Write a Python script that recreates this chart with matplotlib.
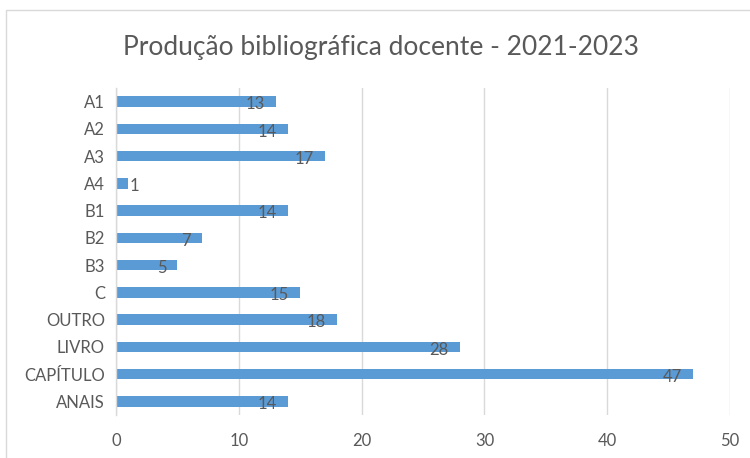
import matplotlib
matplotlib.use("Agg")
import matplotlib.pyplot as plt
import numpy as np

# producao por tipo, 2021-2023
categorias = ["A1", "A2", "A3", "A4", "B1", "B2", "B3", "C",
              "OUTRO", "LIVRO", "CAPÍTULO", "ANAIS"]
quantidades = [13, 14, 17, 1, 14, 7, 5, 15, 18, 28, 47, 14]
ticks_x = [0, 10, 20, 30, 40, 50]

cor_barra = "#5B9BD5"
cor_texto = "#595959"
cor_grade = "#D9D9D9"

plt.rcParams['font.family'] = ['Lato', 'DejaVu Sans']

fig = plt.figure(figsize=(7.5, 4.58), dpi=100)
ax = fig.add_axes([0.1547, 0.0939, 0.8187, 0.714])

y = np.arange(len(categorias))
ax.barh(y, quantidades, height=0.38, color=cor_barra, zorder=2)

# rotulos de valor no fim de cada barra
for yi, v in zip(y, quantidades):
    if v >= 3:
        ax.annotate(str(v), (v, yi), xytext=(-8, -2), textcoords="offset points",
                    ha="right", va="center", fontsize=12, color=cor_texto, zorder=3)
    else:
        ax.annotate(str(v), (v, yi), xytext=(1, -2), textcoords="offset points",
                    ha="left", va="center", fontsize=12, color=cor_texto, zorder=3)

ax.set_xlim(0, 50)
ax.set_ylim(len(categorias) - 0.5, -0.5)
ax.set_xticks(ticks_x)
ax.set_yticks(y)
ax.set_yticklabels(categorias)
ax.tick_params(axis="both", length=0, labelsize=12, labelcolor=cor_texto)
ax.tick_params(axis="x", pad=13)
ax.tick_params(axis="y", pad=8)

ax.grid(axis="x", color=cor_grade, linewidth=1, zorder=0)
for lado in ["top", "right", "bottom"]:
    ax.spines[lado].set_visible(False)
ax.spines["left"].set_color(cor_grade)
ax.spines["left"].set_linewidth(1)

fig.text(0.508, 0.897, "Produção bibliográfica docente - 2021-2023",
         ha="center", va="center", fontsize=19, color=cor_texto)

# moldura do grafico
moldura = plt.Rectangle((6 / 750, -0.05), 1.0, 1 - 10 / 458 + 0.05,
                        transform=fig.transFigure, fill=False,
                        edgecolor=cor_grade, linewidth=1)
fig.patches.append(moldura)

fig.savefig("out.png", dpi=100, facecolor="white")
